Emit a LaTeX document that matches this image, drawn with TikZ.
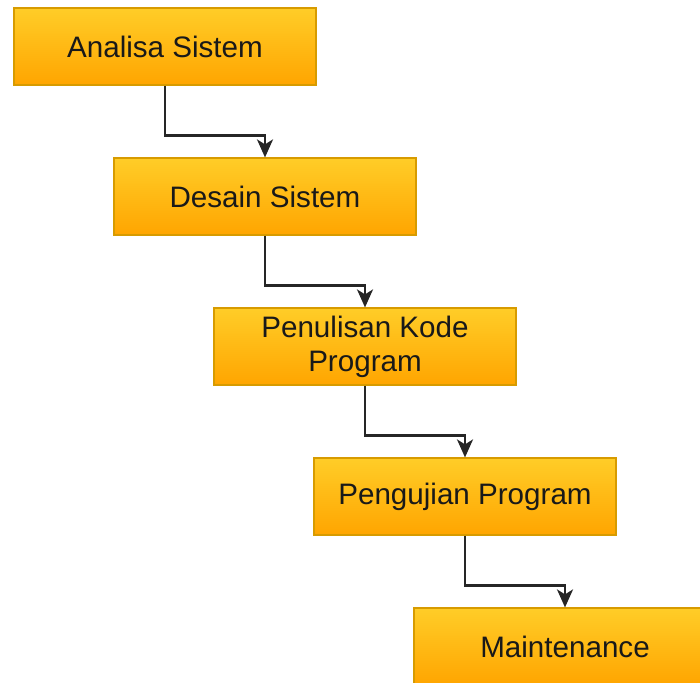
\documentclass[tikz,border=0pt]{standalone}
\usepackage{fontspec}
\setmainfont{Liberation Sans}
\usetikzlibrary{arrows.meta}
\definecolor{boxtop}{HTML}{FFCD28}
\definecolor{boxbottom}{HTML}{FFA500}
\definecolor{boxline}{HTML}{D79B00}
\begin{document}
\begin{tikzpicture}[x=0.5pt,y=-0.5pt]
  % Styles
  \tikzstyle{phase}=[draw=boxline,line width=0.6pt,top color=boxtop,bottom color=boxbottom,
    minimum width=151pt,minimum height=38.5pt,inner sep=0pt,align=center,
    font=\fontsize{14.8}{17}\selectfont,text=black!90]
  \tikzstyle{flow}=[-{Stealth[length=9pt,width=8pt,inset=2.5pt]},line width=1.2pt,black!85]

  % Page
  \clip (0,0) rectangle (700,682);

  % The graphic
  \node[phase] (analisa)   at (165,46.5)  {Analisa Sistem};
  \node[phase] (desain)    at (265,196.5) {Desain Sistem};
  \node[phase] (penulisan) at (365,346.5) {Penulisan Kode\\Program};
  \node[phase] (pengujian) at (465,496.5) {Pengujian Program};
  \node[phase] (maint)     at (565,646.5) {Maintenance};

  \foreach \from/\to in {analisa/desain, desain/penulisan, penulisan/pengujian, pengujian/maint}
    \draw[flow] (\from.south) -- ++(0,50) -| (\to.north);
\end{tikzpicture}
\end{document}
